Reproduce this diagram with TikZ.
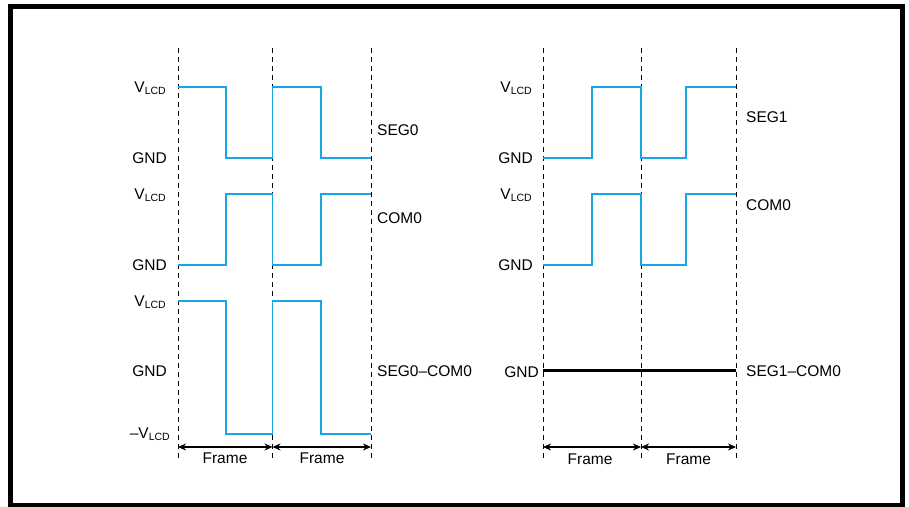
\documentclass[tikz,border=0pt]{standalone}
\usepackage{fontspec}
\setmainfont{Liberation Sans}
\usetikzlibrary{arrows.meta}
\definecolor{wave}{RGB}{25,165,225}
\newcommand{\vlcdtxt}{V\raisebox{-0.3ex}{\fontsize{10.5}{12}\selectfont LCD}}
\begin{document}
\begin{tikzpicture}[x=1pt,y=-1pt,
  lbl/.style={font=\fontsize{15.5}{18}\selectfont, inner sep=0pt},
  lleft/.style={lbl, anchor=east},
  lright/.style={lbl, anchor=west},
  guide/.style={line width=1pt, dash pattern=on 5pt off 4pt},
  wavel/.style={draw=wave, line width=1.5pt},
  zeroline/.style={line width=3pt},
  framearrow/.style={line width=1.3pt, {Stealth[length=8pt,width=7pt]}-{Stealth[length=8pt,width=7pt]}},
  border/.style={line width=5pt}]
\useasboundingbox (0,0) rectangle (909,506);
\fill[white] (0,0) rectangle (909,506);
\draw[border] (10.5,6.5) rectangle (902.5,505);

% guide coordinates
\foreach \n/\x in {a/178,b/272.5,c/371,d/543,e/641,f/736}{
  \coordinate (\n top) at (\x,48);
  \coordinate (\n bot) at (\x,461);
  \coordinate (\n arr) at (\x,447);
}
\foreach \n in {a,b,c,d,e,f}{\draw[guide] (\n top) -- (\n bot);}

% left panel waveforms
\draw[wavel] (178,87) -- (226,87) -- (226,158) -- (272.5,158) -- (272.5,87) -- (321,87) -- (321,158) -- (371,158);
\draw[wavel] (178,265) -- (226,265) -- (226,194) -- (272.5,194) -- (272.5,265) -- (321,265) -- (321,194) -- (371,194);
\draw[wavel] (178,301) -- (226,301) -- (226,434) -- (272.5,434) -- (272.5,301) -- (321,301) -- (321,434) -- (371,434);

% right panel waveforms
\draw[wavel] (543,158) -- (592,158) -- (592,87) -- (641,87) -- (641,158) -- (686,158) -- (686,87) -- (736,87);
\draw[wavel] (543,265) -- (592,265) -- (592,194) -- (641,194) -- (641,265) -- (686,265) -- (686,194) -- (736,194);
\draw[zeroline] (543,370.5) -- (736,370.5);

% left labels
\node[lleft] (lv1) at (166,88) {\vlcdtxt};
\node[lleft] (lg1) at (167,158) {GND};
\node[lleft] (lv2) at (166,195) {\vlcdtxt};
\node[lleft] (lg2) at (167,265) {GND};
\node[lleft] (lv3) at (166,302) {\vlcdtxt};
\node[lleft] (lg3) at (167,371) {GND};
\node[lleft] (lv4) at (170,434) {--\vlcdtxt};

\node[lright] (seg0) at (377,130) {SEG0};
\node[lright] (com0a) at (377,218) {COM0};
\node[lright] (diff0) at (377,371) {SEG0--COM0};

% right labels
\node[lleft] (rv1) at (532,88) {\vlcdtxt};
\node[lleft] (rg1) at (533,158) {GND};
\node[lleft] (rv2) at (532,195) {\vlcdtxt};
\node[lleft] (rg2) at (533,265) {GND};
\node[lleft] (rg3) at (539,372) {GND};

\node[lright] (seg1) at (746,117) {SEG1};
\node[lright] (com0b) at (746,205) {COM0};
\node[lright] (diff1) at (746,371) {SEG1--COM0};

% frame arrows
\draw[framearrow] (aarr) -- (barr);
\draw[framearrow] (barr) -- (carr);
\draw[framearrow] (darr) -- (earr);
\draw[framearrow] (earr) -- (farr);
\node[lbl] (fr1) at (225,458.5) {Frame};
\node[lbl] (fr2) at (322,458.5) {Frame};
\node[lbl] (fr3) at (590,459) {Frame};
\node[lbl] (fr4) at (688.5,459) {Frame};
\end{tikzpicture}
\end{document}
